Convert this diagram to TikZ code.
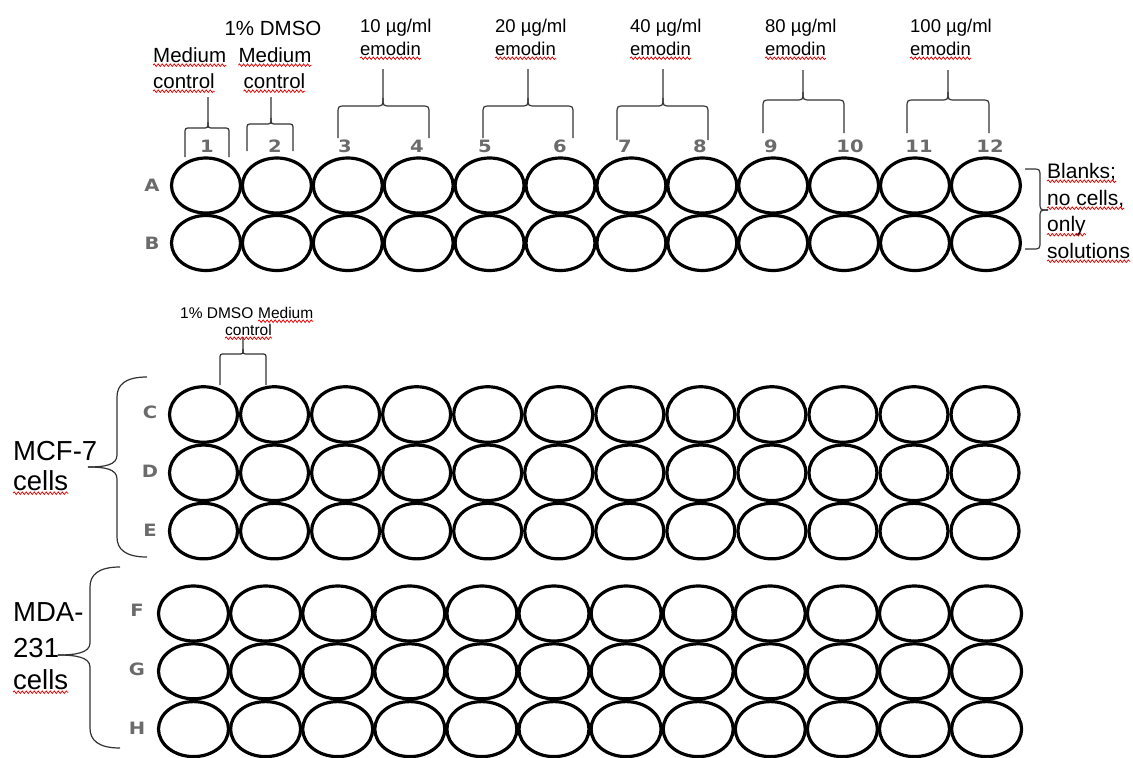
\documentclass[tikz,border=0pt]{standalone}
\usepackage{fontspec}
\setmainfont{Liberation Sans}
\newfontfamily\numfont{DejaVu Sans}
\usetikzlibrary{shapes.geometric,decorations.pathmorphing}
\newcommand\szA{\fontsize{20.5}{24}\selectfont}
\newcommand\szB{\fontsize{18.5}{22}\selectfont}
\newcommand\szC{\fontsize{27.5}{30}\selectfont}
\newcommand\szD{\fontsize{15.5}{18}\selectfont}
\newcommand\szE{\fontsize{21}{24}\selectfont}
\newcommand\WideTxt[1]{\scalebox{1.15}[1]{#1}}
\newcommand\TopBrace[7]{% L R T yb yh yt r
  \draw[braceline] (#1,#4) -- (#1,{#5+#7}) .. controls (#1,#5) .. ({#1+#7},#5) -- ({#3-#7},#5) .. controls (#3,#5) .. (#3,{#5-#7}) -- (#3,#6);
  \draw[braceline] (#2,#4) -- (#2,{#5+#7}) .. controls (#2,#5) .. ({#2-#7},#5) -- ({#3+#7},#5) .. controls (#3,#5) .. (#3,{#5-#7});
}
\newcommand\Squig[1]{\draw[squig] ([yshift=-3.2pt]#1.base west) -- ([yshift=-3.2pt]#1.base east);}
\begin{document}
\begin{tikzpicture}[x=1pt,y=-1pt,
  well/.style={ellipse,draw=black,line width=3.2pt,inner sep=0pt,outer sep=0pt},
  wellAB/.style={well,minimum width=69pt,minimum height=55pt},
  wellCE/.style={well,minimum width=68pt,minimum height=55.5pt},
  wellFH/.style={well,minimum width=70pt,minimum height=55pt},
  lbl/.style={inner sep=0pt,anchor=base west,text=black},
  lblc/.style={inner sep=0pt,anchor=base,text=black},
  grid/.style={inner sep=0pt,anchor=base,text=black!58,font=\numfont\bfseries\fontsize{17}{17}\selectfont},
  braceline/.style={draw=black!80,line width=1.2pt},
  squig/.style={draw=red!90!black,line width=0.75pt,decorate,decoration={snake,segment length=4pt,amplitude=1.3pt}}
]
\useasboundingbox[fill=white] (0,0) rectangle (1133,758);

% wells
\foreach \r [count=\i from 0] in {A,B}{
  \foreach \c in {1,...,12}{
    \node[wellAB] (w\r\c) at ({206+70.9*(\c-1)},{185.5+57.5*\i}) {};}}
\foreach \r [count=\i from 0] in {C,D,E}{
  \foreach \c in {1,...,12}{
    \node[wellCE] (w\r\c) at ({203.5+71.05*(\c-1)},{414.5+58.3*\i}) {};}}
\foreach \r [count=\i from 0] in {F,G,H}{
  \foreach \c in {1,...,12}{
    \node[wellFH] (w\r\c) at ({193.5+72.1*(\c-1)},{613.5+57.8*\i}) {};}}

% row letters
\node[grid] (rA) at (152,191.5) {\WideTxt{A}};
\node[grid] (rB) at (152,249.5) {\WideTxt{B}};
\node[grid] (rC) at (150,418.5) {\WideTxt{C}};
\node[grid] (rD) at (150,477.5) {\WideTxt{D}};
\node[grid] (rE) at (150,536.5) {\WideTxt{E}};
\node[grid] (rF) at (137,616.5) {\WideTxt{F}};
\node[grid] (rG) at (137,675.5) {\WideTxt{G}};
\node[grid] (rH) at (137,734.5) {\WideTxt{H}};

% column numbers
\foreach \c/\x in {1/207,2/275,3/345,4/417,5/485,6/560,7/625,8/700,9/771,10/850,11/919,12/990}{
  \node[grid] (n\c) at (\x,152.5) {\WideTxt{\c}};}

% top braces
\TopBrace{185}{229}{208}{157}{128}{97}{6}
\TopBrace{247}{293}{271}{151}{124}{97}{6}
\TopBrace{338}{429}{383}{138}{106}{69}{8}
\TopBrace{483}{573}{528}{138}{106}{69}{8}
\TopBrace{617}{708}{663}{140}{106}{69}{8}
\TopBrace{763}{844}{803}{133}{100}{70}{8}
\TopBrace{907}{989}{948}{133}{100}{70}{8}
\TopBrace{220}{266}{243}{385}{354}{337}{5}

% right brace (blanks)
\draw[braceline] (1025,169) -- (1032,169) .. controls (1040,169) .. (1040,177) -- (1040,202) .. controls (1040,210) .. (1048,210);
\draw[braceline] (1025,249) -- (1032,249) .. controls (1040,249) .. (1040,241) -- (1040,218) .. controls (1040,210) .. (1048,210);

% left braces
\draw[braceline] (147,377) .. controls (125,377) and (117,385) .. (117,397) -- (117,455) .. controls (117,465) and (105,467) .. (88,467);
\draw[braceline] (147,557) .. controls (125,557) and (117,549) .. (117,537) -- (117,479) .. controls (117,469) and (105,467) .. (88,467);
\draw[braceline] (120,567) .. controls (98,567) and (90,575) .. (90,587) -- (90,643) .. controls (90,653) and (75,655) .. (58,655);
\draw[braceline] (120,748) .. controls (98,748) and (90,740) .. (90,728) -- (90,667) .. controls (90,657) and (75,655) .. (58,655);

% top labels
\node[lbl,font=\szA] (mc1) at (153,62) {Medium};
\node[lbl,font=\szA] (mc2) at (153,88) {control};
\node[lblc,font=\szA] (dm1) at (273,35) {1\% DMSO};
\node[lblc,font=\szA] (dm2) at (275,62) {Medium};
\node[lblc,font=\szA] (dm3) at (274.5,88) {control};

\foreach \k/\x/\v in {1/360/10,2/495/20,3/630/40,4/765/80,5/910/100}{
  \node[lbl,font=\szB] (u\k) at (\x,32) {\v\ µg/ml};
  \node[lbl,font=\szB] (e\k) at (\x,55) {emodin};
}

% blanks label
\node[lbl,font=\szE] (bl1) at (1047,178) {Blanks;};
\node[lbl,font=\szE] (bl2) at (1047,205) {no cells,};
\node[lbl,font=\szE] (bl3) at (1047,231.5) {only};
\node[lbl,font=\szE] (bl4) at (1047,258) {solutions};

% small label
\node[lbl,font=\szD] (sm1) at (180,318) {1\% DMSO};
\node[lbl,font=\szD] (sm2) at ([xshift=4.3pt]sm1.base east) {Medium};
\node[lblc,font=\szD] (sm3) at (248.5,335) {control};

% cell lines
\node[lbl,font=\szC] (mcf1) at (13,460) {MCF-7};
\node[lbl,font=\szC] (mcf2) at (13,490) {cells};
\node[lbl,font=\szC] (mda1) at (13,621) {MDA-};
\node[lbl,font=\szC] (mda2) at (13,657) {231};
\node[lbl,font=\szC] (mda3) at (13,689) {cells};

% spell-check underlines
\foreach \n in {mc1,mc2,dm2,dm3,e1,e2,e3,e4,e5,bl1,bl2,bl3,bl4,sm2,sm3,mcf2,mda3}{
  \Squig{\n}}
\end{tikzpicture}
\end{document}
